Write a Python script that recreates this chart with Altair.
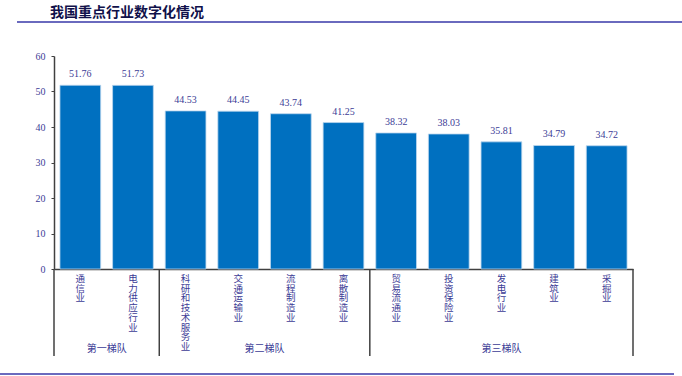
import altair as alt
import pandas as pd

categories = ["通信业", "电力供应行业", "科研和技术服务业", "交通运输业", "流程制造业", "离散制造业",
              "贸易流通业", "投资保险业", "发电行业", "建筑业", "采掘业"]
values = [51.76, 51.73, 44.53, 44.45, 43.74, 41.25, 38.32, 38.03, 35.81, 34.79, 34.72]
group_names = ["第一梯队", "第二梯队", "第三梯队"]
group_sizes = [2, 4, 5]
y_ticks = [0, 10, 20, 30, 40, 50, 60]
title_text = "我国重点行业数字化情况"

W, H = 579, 213
TXT = "#3c3c96"
SERIF = "Liberation Serif"
CJK = "Noto Sans CJK SC"

df = pd.DataFrame({
    "cat": categories,
    "val": values,
    "vlabel": ["\n".join(list(c)) for c in categories],
})

bounds = [0]
for s in group_sizes:
    bounds.append(bounds[-1] + s)
gdf = pd.DataFrame({"name": group_names,
                    "mid": [(bounds[i] + bounds[i + 1]) / 2 for i in range(len(group_names))]})
sdf = pd.DataFrame({"b": bounds})

xband = alt.X("cat:N", sort=categories,
              scale=alt.Scale(paddingInner=0.226, paddingOuter=0.113),
              axis=alt.Axis(labels=False, ticks=False, title=None, domain=True,
                            domainColor="#404040", domainWidth=1.5))

yaxis = alt.Axis(values=y_ticks, grid=False, title=None, labelOverlap=False,
                 domainColor="#404040", domainWidth=1.5, tickColor="#404040",
                 tickSize=3, labelPadding=6, labelFont=SERIF, labelFontSize=10,
                 labelColor=TXT)
yenc = alt.Y("val:Q", scale=alt.Scale(domain=[0, 60], nice=False), axis=yaxis)

bars = alt.Chart(df).mark_bar(color="#0070C0", stroke="#BDD7EE", strokeWidth=0.8).encode(
    x=xband, y=yenc,
)

vals = alt.Chart(df).mark_text(font=SERIF, fontSize=10, color=TXT, dy=-6, baseline="bottom").encode(
    x=alt.X("cat:N", sort=categories),
    y=yenc,
    text=alt.Text("val:Q", format=".2f"),
)

catlabels = alt.Chart(df).mark_text(font=CJK, fontSize=9.5, color=TXT, baseline="top",
                                    lineBreak="\n", lineHeight=9.7).encode(
    x=alt.X("cat:N", sort=categories),
    y=alt.value(H + 5),
    text="vlabel:N",
)

main = alt.layer(bars, vals, catlabels)

lin = alt.Scale(domain=[0, len(categories)], range=[0, W])

seps = alt.Chart(sdf).mark_rule(color="#404040", strokeWidth=1.5).encode(
    x=alt.X("b:Q", scale=lin, axis=None),
    y=alt.value(H),
    y2=alt.value(H + 87),
)

glabels = alt.Chart(gdf).mark_text(font=CJK, fontSize=10, color=TXT, baseline="middle").encode(
    x=alt.X("mid:Q", scale=lin, axis=None),
    y=alt.value(H + 80),
    text="name:N",
)

title = alt.Chart(pd.DataFrame({"t": [title_text]})).mark_text(
    font=CJK, fontSize=14, fontWeight="bold", color="#10104a", align="left", baseline="middle"
).encode(x=alt.value(-4), y=alt.value(-43), text="t:N")

toprule = alt.Chart(pd.DataFrame({"a": [0]})).mark_rule(color="#3838a8", strokeWidth=1.5).encode(
    x=alt.value(-37), x2=alt.value(628), y=alt.value(-34))
botrule = alt.Chart(pd.DataFrame({"a": [0]})).mark_rule(color="#3838a8", strokeWidth=1.5).encode(
    x=alt.value(-54), x2=alt.value(620), y=alt.value(H + 105))

extra = alt.layer(seps, glabels, title, toprule, botrule)

chart = alt.layer(main, extra).resolve_scale(x="independent").properties(
    width=W, height=H,
    autosize=alt.AutoSizeParams(type="none"),
    padding={"left": 54, "top": 56, "right": 49, "bottom": 107},
    background="white",
).configure_view(stroke=None)

chart.save("out.html", embed_options={"renderer": "svg", "actions": False})
